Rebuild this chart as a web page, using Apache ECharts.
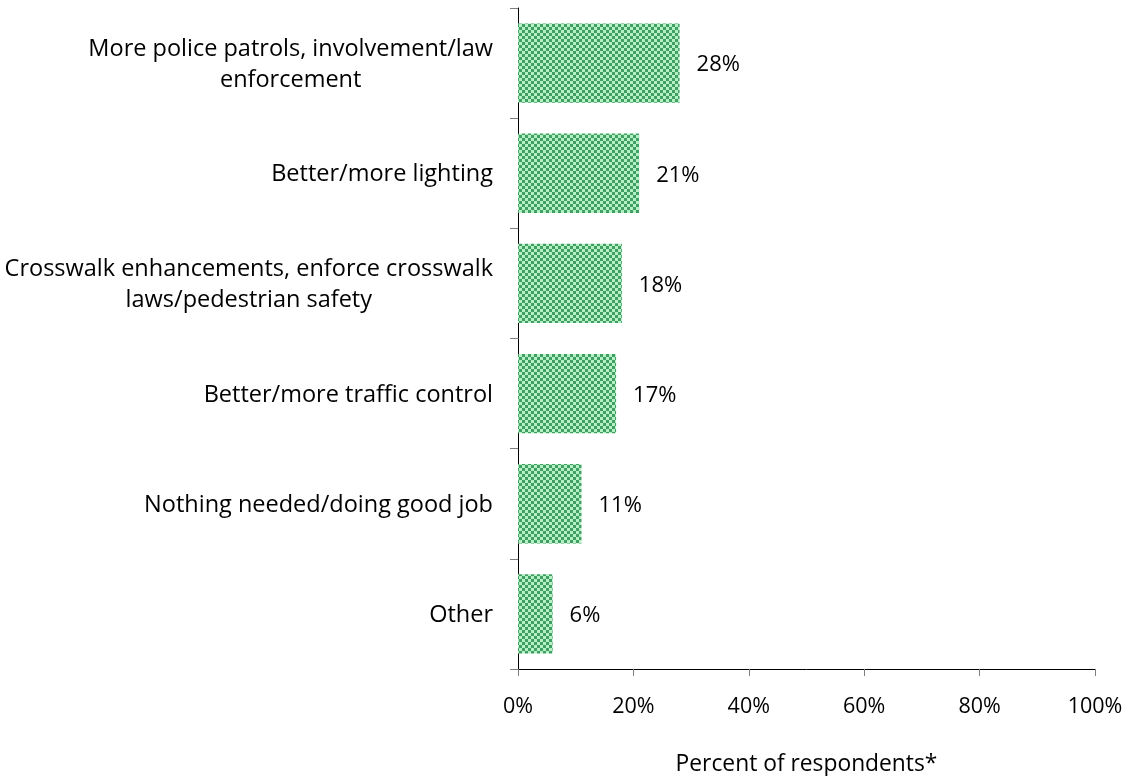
<!DOCTYPE html>
<html>
<head>
<meta charset="utf-8">
<script src="https://cdn.jsdelivr.net/npm/echarts@6/dist/echarts.min.js"></script>
<style>
  html, body { margin: 0; padding: 0; background: #ffffff; }
  #chart { width: 1130px; height: 776px; }
</style>
</head>
<body>
<div id="chart"></div>
<script>
// Survey answers: what would improve safety
const categories = [
  'More police patrols, involvement/law\nenforcement',
  'Better/more lighting',
  'Crosswalk enhancements, enforce crosswalk\nlaws/pedestrian safety',
  'Better/more traffic control',
  'Nothing needed/doing good job',
  'Other'
];
const percentValues = [28, 21, 18, 17, 11, 6];
const xTicks = [0, 20, 40, 60, 80, 100];
const axisTitle = 'Percent of respondents*';

const FONT = '"Open Sans", sans-serif';

// Green checkerboard fill for the bars
function checkerPattern() {
  const c = document.createElement('canvas');
  c.width = 6; c.height = 6;
  const ctx = c.getContext('2d');
  ctx.fillStyle = '#b4f0c4';
  ctx.fillRect(0, 0, 6, 6);
  ctx.fillStyle = '#40a064';
  ctx.fillRect(0, 0, 3, 3);
  ctx.fillRect(3, 3, 3, 3);
  return c;
}

const chart = echarts.init(document.getElementById('chart'), null, { renderer: 'canvas' });

chart.setOption({
  animation: false,
  backgroundColor: '#ffffff',
  grid: { left: 518, right: 35, top: 8, bottom: 107, containLabel: false, outerBoundsMode: 'none' },
  xAxis: {
    type: 'value',
    min: 0,
    max: 100,
    interval: 20,
    name: axisTitle,
    nameLocation: 'middle',
    nameGap: 84,
    nameTextStyle: { fontFamily: FONT, fontSize: 22.8, color: '#000' },
    axisLine: { show: true, lineStyle: { color: '#000', width: 1 } },
    axisTick: { show: true, length: 7, lineStyle: { color: '#7f7f7f' } },
    splitLine: { show: false },
    axisLabel: {
      fontFamily: FONT, fontSize: 21.5, color: '#000', margin: 27,
      formatter: v => xTicks.includes(v) ? v + '%' : ''
    }
  },
  yAxis: {
    type: 'category',
    data: categories,
    inverse: true,
    axisLine: { show: true, lineStyle: { color: '#000', width: 1 } },
    axisTick: { show: true, length: 8, lineStyle: { color: '#7f7f7f' } },
    axisLabel: {
      margin: 25,
      fontFamily: FONT, fontSize: 23.5, color: '#000',
      lineHeight: 31,
      formatter: v => v.split('\n').map(s => '{c|' + s + '}').join('\n'),
      rich: { c: { align: 'center', fontFamily: FONT, fontSize: 23.5, color: '#000', lineHeight: 31, padding: [3, 0, 0, 0] } }
    }
  },
  series: [{
    type: 'bar',
    data: percentValues,
    barCategoryGap: '28%',
    itemStyle: { color: { image: checkerPattern(), repeat: 'repeat' } },
    label: {
      show: true,
      position: 'right',
      distance: 17,
      offset: [0, 2],
      fontFamily: FONT,
      fontSize: 22,
      color: '#000',
      formatter: p => p.value + '%'
    }
  }]
});
</script>
</body>
</html>
